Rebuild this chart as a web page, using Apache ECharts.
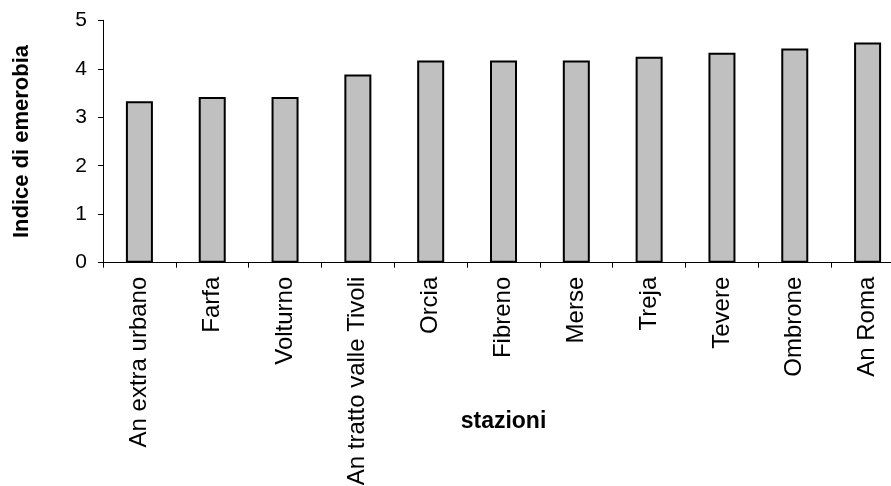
<!DOCTYPE html>
<html>
<head>
<meta charset="utf-8">
<script src="https://cdn.jsdelivr.net/npm/echarts@6/dist/echarts.min.js"></script>
<style>
  html, body { margin: 0; padding: 0; background: #fff; }
  #chart { width: 891px; height: 486px; }
</style>
</head>
<body>
<div id="chart"></div>
<script>
// Stations (x categories) and their emeroby index
const stazioni = ['An extra urbano', 'Farfa', 'Volturno', 'An tratto valle Tivoli', 'Orcia',
  'Fibreno', 'Merse', 'Treja', 'Tevere', 'Ombrone', 'An Roma'];
const indiceEmerobia = [3.33, 3.42, 3.42, 3.88, 4.17, 4.17, 4.17, 4.25, 4.33, 4.42, 4.54];
const yTicks = [0, 1, 2, 3, 4, 5];

const FONT = "'Liberation Sans', Arial, sans-serif";
const chart = echarts.init(document.getElementById('chart'), null, { renderer: 'canvas' });

chart.setOption({
  animation: false,
  backgroundColor: '#ffffff',
  grid: { left: 103, top: 20.3, width: 801, height: 242.4, containLabel: false, outerBoundsMode: 'none' },
  xAxis: {
    type: 'category',
    data: stazioni,
    name: 'stazioni',
    nameLocation: 'middle',
    nameGap: 147,
    nameMoveOverlap: false,
    nameTextStyle: { fontFamily: FONT, fontSize: 23, fontWeight: 'bold', color: '#000' },
    axisLine: { lineStyle: { color: '#000', width: 1 } },
    axisTick: { show: true, length: 5, lineStyle: { color: '#000' } },
    axisLabel: { rotate: 90, margin: 14, fontFamily: FONT, fontSize: 24, color: '#000', interval: 0 },
    splitLine: { show: false }
  },
  yAxis: {
    type: 'value',
    min: yTicks[0],
    max: yTicks[yTicks.length - 1],
    interval: 1,
    name: 'Indice di emerobia',
    nameLocation: 'middle',
    nameGap: 70,
    nameMoveOverlap: false,
    nameTextStyle: { fontFamily: FONT, fontSize: 22, fontWeight: 'bold', color: '#000' },
    axisLine: { show: true, lineStyle: { color: '#000', width: 1 } },
    axisTick: { show: true, length: 5, lineStyle: { color: '#000' } },
    axisLabel: { margin: 16, fontFamily: FONT, fontSize: 21, color: '#000' },
    splitLine: { show: false }
  },
  series: [{
    type: 'bar',
    data: indiceEmerobia,
    barWidth: 27,
    itemStyle: { color: '#c0c0c0', borderColor: '#000', borderWidth: 2 }
  }]
});
</script>
</body>
</html>
